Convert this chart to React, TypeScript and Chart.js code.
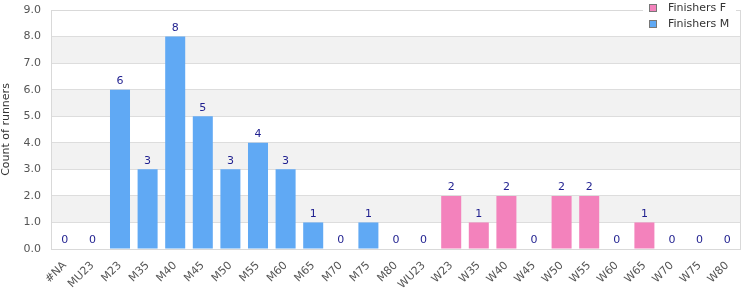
import React, { useEffect, useRef } from "react";
import { Chart, registerables } from "chart.js";

Chart.register(...registerables);

const categories = ["#NA", "MU23", "M23", "M35", "M40", "M45", "M50", "M55", "M60", "M65", "M70", "M75", "M80", "WU23", "W23", "W35", "W40", "W45", "W50", "W55", "W60", "W65", "W70", "W75", "W80"];
const finishersM = [0, 0, 6, 3, 8, 5, 3, 4, 3, 1, 0, 1, 0, 0, 0, 0, 0, 0, 0, 0, 0, 0, 0, 0, 0];
const finishersF = [0, 0, 0, 0, 0, 0, 0, 0, 0, 0, 0, 0, 0, 0, 2, 1, 2, 0, 2, 2, 0, 1, 0, 0, 0];
const yMax = 9;

const BLUE = "#60a9f4";
const PINK = "#f382bc";
const FONT = "'DejaVu Sans', sans-serif";

const bgPlugin = {
  id: "bands",
  beforeDraw(chart: any) {
    const { ctx, chartArea, scales } = chart;
    const y = scales.y;
    ctx.save();
    for (let v = 1; v < yMax; v += 2) {
      const top = y.getPixelForValue(v + 1);
      const bot = y.getPixelForValue(v);
      ctx.fillStyle = "#f2f2f2";
      ctx.fillRect(chartArea.left, top, chartArea.right - chartArea.left, bot - top);
    }
    ctx.restore();
  },
  afterDatasetsDraw(chart: any) {
    const { ctx, chartArea, scales } = chart;
    ctx.save();
    ctx.strokeStyle = "#d9d9d9";
    ctx.lineWidth = 1;
    ctx.strokeRect(chartArea.left + 0.5, chartArea.top + 0.5, chartArea.right - chartArea.left - 1, chartArea.bottom - chartArea.top);
    // value labels
    ctx.fillStyle = "#1f1f8f";
    ctx.font = "11px " + FONT;
    ctx.textAlign = "center";
    ctx.textBaseline = "bottom";
    categories.forEach((c, i) => {
      const total = finishersM[i] + finishersF[i];
      const x = scales.x.getPixelForValue(i);
      const yy = scales.y.getPixelForValue(total);
      ctx.fillText(String(total), x, yy - 3);
    });
    // legend
    ctx.fillStyle = "#ffffff";
    ctx.fillRect(643, 0, 93, 34);
    const items = [
      { label: "Finishers F", color: PINK },
      { label: "Finishers M", color: BLUE },
    ];
    items.forEach((it, k) => {
      const yc = 8 + k * 16;
      ctx.fillStyle = it.color;
      ctx.fillRect(650, yc - 3, 6, 6);
      ctx.strokeStyle = "#777777";
      ctx.strokeRect(649.5, yc - 3.5, 7, 7);
      ctx.fillStyle = "#333333";
      ctx.font = "11px " + FONT;
      ctx.textAlign = "left";
      ctx.textBaseline = "middle";
      ctx.fillText(it.label, 668, yc);
    });
    ctx.restore();
  },
};

export default function App() {
  const ref = useRef<HTMLCanvasElement>(null);
  useEffect(() => {
    document.body.style.margin = "0";
    const chart = new Chart(ref.current!, {
      type: "bar",
      data: {
        labels: categories,
        datasets: [
          { label: "Finishers M", data: finishersM, backgroundColor: BLUE, barPercentage: 0.725, categoryPercentage: 1 },
          { label: "Finishers F", data: finishersF, backgroundColor: PINK, barPercentage: 0.725, categoryPercentage: 1 },
        ],
      },
      options: {
        animation: false,
        responsive: false,
        layout: { padding: { top: 10, right: 9, left: 0, bottom: 0 } },
        plugins: { legend: { display: false }, tooltip: { enabled: false } },
        scales: {
          x: {
            stacked: true,
            grid: { display: false },
            border: { display: false },
            ticks: { color: "#555", font: { family: FONT, size: 11 }, maxRotation: 45, minRotation: 45, autoSkip: false, padding: 2 },
            afterFit: (s: any) => { s.height = 51; },
          },
          y: {
            stacked: true,
            min: 0,
            max: yMax,
            grid: { color: "#dddddd", drawTicks: false },
            border: { display: false },
            ticks: { stepSize: 1, color: "#555", font: { family: FONT, size: 11 }, padding: 10, callback: (v: any) => Number(v).toFixed(1) },
            title: { display: true, text: "Count of runners", color: "#333", font: { family: FONT, size: 11 }, padding: 0 },
            afterFit: (s: any) => { s.width = 51; s.paddingTop = 0; s.paddingBottom = 0; },
          },
        },
      },
      plugins: [bgPlugin],
    });
    return () => chart.destroy();
  }, []);
  return <canvas ref={ref} width={750} height={300} style={{ display: "block" }} />;
}
